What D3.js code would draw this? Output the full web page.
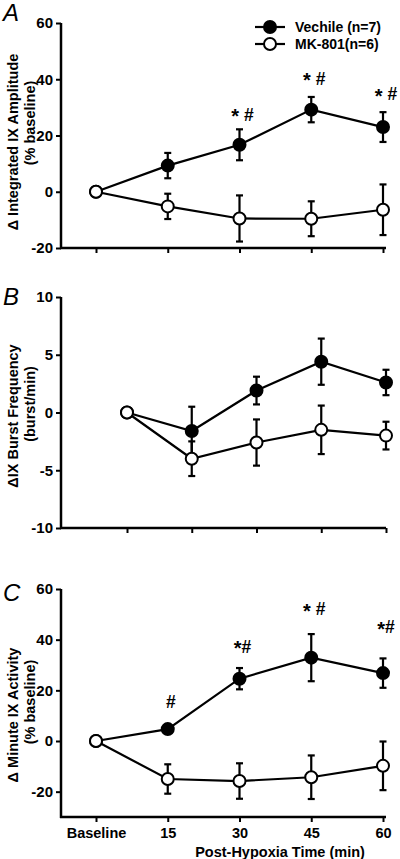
<!DOCTYPE html>
<html><head><meta charset="utf-8">
<script src="https://cdn.jsdelivr.net/npm/d3@7"></script>
<style>
html,body{margin:0;padding:0;background:#fff;}
text{font-family:"Liberation Sans",Arial,sans-serif;}
</style></head>
<body>
<svg id="chart" width="400" height="859"></svg>
<script>
// ---- Data ----
const categories = ["Baseline", "15", "30", "45", "60"];
const seriesNames = ["Vechile (n=7)", "MK-801(n=6)"];

// Panel A: Δ Integrated IX Amplitude (% baseline)
const ampVehicle = [0, 9.3, 16.7, 29.2, 23.0];
const ampVehicleErr = [0, 4.5, 5.5, 4.5, 5.3];
const ampMK = [0, -5.2, -9.5, -9.6, -6.4];
const ampMKErr = [0, 4.5, 8.2, 6.2, 9.0];
const ampTicks = [-20, 0, 20, 40, 60];
const ampNotes = [{i: 2, y: 27.3, t: "* #"}, {i: 3, y: 40.2, t: "* #"}, {i: 4, y: 34.6, t: "* #"}];

// Panel B: ΔIX Burst Frequency (burst/min)
const freqVehicle = [0, -1.6, 1.9, 4.4, 2.6];
const freqVehicleErr = [0, 2.1, 1.2, 2.0, 1.1];
const freqMK = [0, -4.0, -2.6, -1.5, -2.0];
const freqMKErr = [0, 1.5, 2.0, 2.1, 1.2];
const freqTicks = [-10, -5, 0, 5, 10];

// Panel C: Δ Minute IX Activity (% baseline)
const minVehicle = [0, 4.7, 24.6, 32.9, 26.8];
const minVehicleErr = [0, 1.2, 4.2, 9.3, 5.8];
const minMK = [0, -15.0, -15.8, -14.3, -9.8];
const minMKErr = [0, 5.8, 7.0, 8.6, 9.6];
const minTicks = [-20, 0, 20, 40, 60];
const minNotes = [{i: 1, y: 15.4, t: "#"}, {i: 2, y: 37.3, t: "*#"}, {i: 3, y: 52.1, t: "* #"}, {i: 4, y: 44.9, t: "*#"}];

// ---- Drawing ----
const svg = d3.select("#chart");
const FONT = '"Liberation Sans",Arial,sans-serif';

function panel(cfg) {
  const g = svg.append("g");
  const x = d3.scaleLinear().domain([0, categories.length - 1]).range(cfg.xRange);
  const y = d3.scaleLinear().domain(cfg.yDomain).range(cfg.yRange);
  const axL = 61, axR = 386;

  // y axis
  const ya = g.append("g").attr("transform", `translate(${axL},0)`)
    .call(d3.axisLeft(y).tickValues(cfg.yTicks).tickFormat(d => String(d)).tickSize(5).tickPadding(3).tickSizeOuter(0));
  ya.select(".domain").remove();
  ya.selectAll("line").attr("stroke", "#000").attr("stroke-width", 2);
  ya.selectAll("text").attr("font-family", FONT).attr("font-size", 15).attr("font-weight", "bold").attr("fill", "#000");
  g.append("line").attr("x1", axL).attr("x2", axL).attr("y1", cfg.yRange[1]).attr("y2", cfg.yRange[0] + 1)
    .attr("stroke", "#000").attr("stroke-width", 2.5);

  // x axis
  const xa = g.append("g").attr("transform", `translate(0,${cfg.yRange[0]})`)
    .call(d3.axisBottom(x).tickValues(d3.range(categories.length))
      .tickFormat(i => cfg.showX ? categories[i] : "").tickSize(5).tickPadding(6).tickSizeOuter(0));
  xa.select(".domain").remove();
  xa.selectAll("line").attr("stroke", "#000").attr("stroke-width", 2);
  xa.selectAll("text").attr("font-family", FONT).attr("font-size", 14.5).attr("font-weight", "bold").attr("fill", "#000");
  g.append("line").attr("x1", axL - 1).attr("x2", axR).attr("y1", cfg.yRange[0]).attr("y2", cfg.yRange[0])
    .attr("stroke", "#000").attr("stroke-width", 2.5);

  // panel letter
  g.append("text").attr("x", 3).attr("y", cfg.letterY).text(cfg.letter)
    .attr("font-family", FONT).attr("font-size", 24).attr("font-style", "italic").attr("fill", "#000");

  // y labels
  g.append("text").attr("transform", `translate(18,${cfg.lab1Y}) rotate(-90)`).attr("text-anchor", "middle")
    .attr("font-family", FONT).attr("font-size", 14.5).attr("font-weight", "bold").text(cfg.label1);
  g.append("text").attr("transform", `translate(35,${cfg.lab2Y}) rotate(-90)`).attr("text-anchor", "middle")
    .attr("font-family", FONT).attr("font-size", 14.5).attr("font-weight", "bold").text(cfg.label2);

  const line = d3.line().x((d, i) => x(i)).y(d => y(d));
  const series = [
    {v: cfg.veh, e: cfg.vehErr, fill: "#000"},
    {v: cfg.mk, e: cfg.mkErr, fill: "#fff"}
  ];
  series.forEach(s => {
    g.append("path").datum(s.v).attr("d", line).attr("fill", "none").attr("stroke", "#000").attr("stroke-width", 2.2);
  });
  series.forEach(s => {
    const eb = g.append("g");
    s.v.forEach((v, i) => {
      if (!s.e[i]) return;
      const cx = x(i);
      eb.append("line").attr("x1", cx).attr("x2", cx).attr("y1", y(v - s.e[i])).attr("y2", y(v + s.e[i]))
        .attr("stroke", "#000").attr("stroke-width", 2.2);
      [v - s.e[i], v + s.e[i]].forEach(yy => {
        eb.append("line").attr("x1", cx - 3.5).attr("x2", cx + 3.5).attr("y1", y(yy)).attr("y2", y(yy))
          .attr("stroke", "#000").attr("stroke-width", 2.2);
      });
    });
  });
  series.forEach(s => {
    g.append("g").selectAll("circle").data(s.v).join("circle")
      .attr("cx", (d, i) => x(i)).attr("cy", d => y(d)).attr("r", 6)
      .attr("fill", s.fill).attr("stroke", "#000").attr("stroke-width", 2);
  });

  // significance notes
  (cfg.notes || []).forEach(n => {
    const t = g.append("text").attr("x", x(n.i) + 3).attr("y", y(n.y) + 6).attr("text-anchor", "middle")
      .attr("font-family", FONT).attr("font-size", 17.5).attr("font-weight", "bold");
    n.t.split("").forEach(ch => {
      const ts = t.append("tspan").text(ch);
      if (ch === "*") ts.attr("dy", 2.5).attr("font-size", 20);
      if (ch === "#" && n.t.indexOf("*") >= 0) ts.attr("dy", -2.5);
    });
  });
  return {g, x, y};
}

panel({
  xRange: [96, 383], yDomain: [-20, 60], yRange: [248, 23], yTicks: ampTicks,
  veh: ampVehicle, vehErr: ampVehicleErr, mk: ampMK, mkErr: ampMKErr,
  letter: "A", letterY: 21, label1: "\u0394 Integrated IX Amplitude", label2: "(% baseline)",
  lab1Y: 142, lab2Y: 123, notes: ampNotes, showX: false
});
panel({
  xRange: [127, 386], yDomain: [-10, 10], yRange: [528, 297], yTicks: freqTicks,
  veh: freqVehicle, vehErr: freqVehicleErr, mk: freqMK, mkErr: freqMKErr,
  letter: "B", letterY: 305, label1: "\u0394IX Burst Frequency", label2: "(burst/min)",
  lab1Y: 416, lab2Y: 404, notes: [], showX: false
});
panel({
  xRange: [96, 383], yDomain: [-30, 60], yRange: [817, 589], yTicks: minTicks,
  veh: minVehicle, vehErr: minVehicleErr, mk: minMK, mkErr: minMKErr,
  letter: "C", letterY: 601, label1: "\u0394 Minute IX Activity", label2: "(% baseline)",
  lab1Y: 715, lab2Y: 702, notes: minNotes, showX: true
});

// x title
svg.append("text").attr("x", 280).attr("y", 857).attr("text-anchor", "middle")
  .attr("font-family", FONT).attr("font-size", 14.5).attr("font-weight", "bold").text("Post-Hypoxia Time (min)");

// legend
const leg = svg.append("g");
const legFills = ["#000", "#fff"];
seriesNames.forEach((name, k) => {
  const yy = 27 + k * 17;
  leg.append("line").attr("x1", 255).attr("x2", 285).attr("y1", yy).attr("y2", yy).attr("stroke", "#000").attr("stroke-width", 2.2);
  leg.append("circle").attr("cx", 270).attr("cy", yy).attr("r", 6).attr("fill", legFills[k]).attr("stroke", "#000").attr("stroke-width", 2);
  leg.append("text").attr("x", 295).attr("y", yy).attr("dominant-baseline", "central")
    .attr("font-family", FONT).attr("font-size", 14).attr("font-weight", "bold").text(name);
});
</script>
</body></html>
